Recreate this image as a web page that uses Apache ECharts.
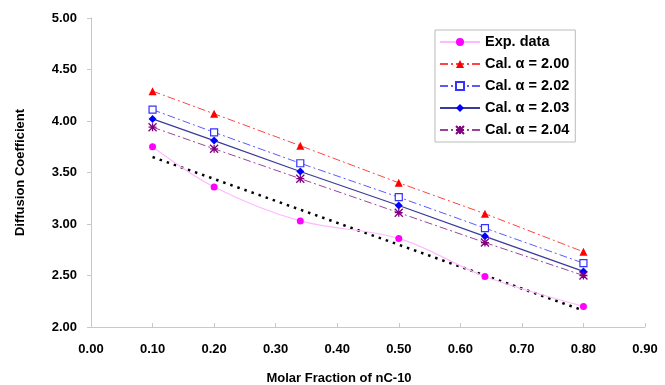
<!DOCTYPE html>
<html><head><meta charset="utf-8">
<script src="https://cdn.jsdelivr.net/npm/echarts@6/dist/echarts.min.js"></script>
<style>html,body{margin:0;padding:0;background:#fff}#c{width:665px;height:385px}</style>
</head><body><div id="c"></div>
<script>
var xValues = [0.10, 0.20, 0.34, 0.50, 0.64, 0.80];
var expData = [3.75, 3.36, 3.03, 2.86, 2.49, 2.20];
var cal200 = [4.29, 4.07, 3.76, 3.40, 3.10, 2.73];
var cal202 = [4.11, 3.89, 3.59, 3.26, 2.96, 2.62];
var cal203 = [4.02, 3.81, 3.51, 3.18, 2.88, 2.54];
var cal204 = [3.94, 3.73, 3.44, 3.11, 2.82, 2.50];
var trendX = [0.10, 0.80];
var trendY = [3.65, 2.16];
var seriesNames = ['Exp. data', 'Cal. α = 2.00', 'Cal. α = 2.02', 'Cal. α = 2.03', 'Cal. α = 2.04'];

function pairs(xs, ys){ return xs.map(function(x,i){ return [x, ys[i]]; }); }
var dashDot = [8, 3, 2, 3];
var chart = echarts.init(document.getElementById('c'));
var font = 'Liberation Sans, Arial, sans-serif';
chart.setOption({
  animation: false,
  grid: {left: 91, right: 20, top: 18, bottom: 58, containLabel: false, outerBoundsMode: 'none'},
  legend: {
    orient: 'vertical', left: 435, top: 30, itemWidth: 40, itemHeight: 10, itemGap: 6,
    padding: [4, 6, 4, 4], borderColor: '#bbbbbb', borderWidth: 1, backgroundColor: '#fff',
    textStyle: {fontFamily: font, fontWeight: 'bold', fontSize: 14.5, color: '#000', lineHeight: 16},
    data: seriesNames
  },
  xAxis: {
    type: 'value', min: 0, max: 0.9, interval: 0.1,
    name: 'Molar Fraction of nC-10', nameLocation: 'middle', nameGap: 45,
    nameTextStyle: {fontFamily: font, fontWeight: 'bold', fontSize: 13, color: '#000', padding: [0, 58, 0, 0]},
    axisLine: {show: true, lineStyle: {color: '#c8c8c8'}},
    axisTick: {show: true, inside: true, length: 4, lineStyle: {color: '#c8c8c8'}},
    splitLine: {show: false},
    axisLabel: {fontFamily: font, fontWeight: 'bold', fontSize: 13, color: '#000', margin: 16,
      formatter: function(v){ return v.toFixed(2); }}
  },
  yAxis: {
    type: 'value', min: 2, max: 5, interval: 0.5,
    name: 'Diffusion Coefficient', nameLocation: 'middle', nameGap: 64, nameRotate: 90,
    nameTextStyle: {fontFamily: font, fontWeight: 'bold', fontSize: 13, color: '#000'},
    axisLine: {show: true, lineStyle: {color: '#c8c8c8'}},
    axisTick: {show: true, inside: false, length: 4, lineStyle: {color: '#c8c8c8'}},
    splitLine: {show: false},
    axisLabel: {fontFamily: font, fontWeight: 'bold', fontSize: 13, color: '#000', margin: 14,
      formatter: function(v){ return v.toFixed(2); }}
  },
  series: [
    {name: seriesNames[0], type: 'line', data: pairs(xValues, expData), smooth: 0.35,
      symbol: 'circle', symbolSize: 7, itemStyle: {color: '#ff00ff'},
      lineStyle: {color: '#ffbbff', width: 1.2}, z: 3},
    {name: seriesNames[1], type: 'line', data: pairs(xValues, cal200),
      symbol: 'triangle', symbolSize: 8, itemStyle: {color: '#ff0000'},
      lineStyle: {color: '#ff4444', width: 1, type: dashDot}},
    {name: seriesNames[2], type: 'line', data: pairs(xValues, cal202),
      symbol: 'rect', symbolSize: 7, itemStyle: {color: '#ffffff', borderColor: '#3333ff', borderWidth: 1.2},
      lineStyle: {color: '#5a5aff', width: 1, type: dashDot}},
    {name: seriesNames[3], type: 'line', data: pairs(xValues, cal203),
      symbol: 'diamond', symbolSize: 8, itemStyle: {color: '#0000ff'},
      lineStyle: {color: '#3a3a9a', width: 1.2, type: 'solid'}},
    {name: seriesNames[4], type: 'line', data: pairs(xValues, cal204),
      symbol: 'path://M0,0L10,10M10,0L0,10M5,0L5,10M0,5L10,5', symbolSize: 8,
      itemStyle: {color: '#800080', borderColor: '#800080', borderWidth: 1.3},
      lineStyle: {color: '#994499', width: 1, type: dashDot}},
    {name: 'trend', type: 'line', data: pairs(trendX, trendY), symbol: 'none',
      lineStyle: {color: '#000', width: 2.5, type: [2.5, 5]}, z: 1}
  ]
});
</script></body></html>
